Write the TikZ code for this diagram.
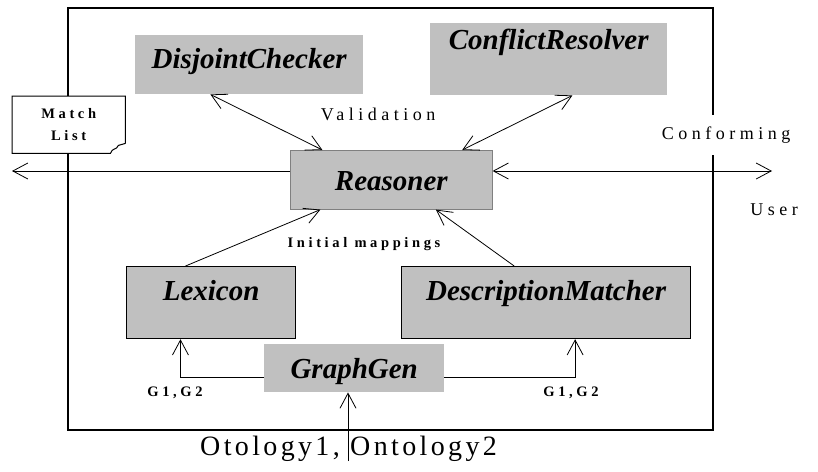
\documentclass[tikz,border=0pt]{standalone}
\usepackage{fontspec}
\setmainfont{Liberation Serif}
\newfontfamily\spacedfont[LetterSpace=25]{Liberation Serif}
\newfontfamily\widefont[LetterSpace=12]{Liberation Serif}
\usetikzlibrary{arrows.meta, calc}
\definecolor{boxgray}{RGB}{192,192,192}

\begin{document}
\begin{tikzpicture}[
    x=1pt, y=-1pt,
    comp/.style={rectangle, fill=boxgray, anchor=north west, inner sep=0pt, font=\fontsize{29}{32}\selectfont\bfseries\itshape},
    framed/.style={comp, draw, line width=1.2pt},
    lbl/.style={font=\spacedfont\fontsize{18}{20}\selectfont},
    small/.style={font=\spacedfont\fontsize{14.5}{22}\selectfont\bfseries},
    arr/.style={-{Straight Barb[length=15pt, width=16pt]}, line width=0.8pt},
    biarr/.style={{Straight Barb[length=15pt, width=16pt]}-{Straight Barb[length=15pt, width=16pt]}, line width=0.8pt},
]
    \useasboundingbox (0,0) rectangle (818,471);

    % System frame
    \draw[line width=1.3pt] (68,8) rectangle (713,430);

    % Validation components
    \node[comp, minimum width=228pt, text height=33pt, text depth=26pt] (disj) at (135,35) {DisjointChecker};
    \node[comp, minimum width=237pt, text height=26pt, text depth=46pt] (conf) at (430,23) {ConflictResolver};

    % Reasoner
    \node[comp, draw=gray, line width=0.6pt, minimum width=202pt, text height=40pt, text depth=19pt] (reas) at (290,150) {Reasoner};

    % Matchers
    \node[framed, minimum width=169pt, text height=34pt, text depth=38pt] (lex) at (126,266) {Lexicon};
    \node[framed, minimum width=289pt, text height=34pt, text depth=38pt] (desc) at (401,266) {DescriptionMatcher};
    \node[comp, minimum width=180pt, text height=34pt, text depth=14pt] (gg) at (264,344) {GraphGen};

    % Match list
    \node[small, fill=white, anchor=north west, minimum width=113pt, minimum height=57pt, align=center] (ml) at (12,96) {Match\\List};
    \draw[line width=1pt] ([yshift=10pt]ml.south east) -- (ml.north east) -- (ml.north west) -- (ml.south west)
        -- ([xshift=-15pt]ml.south east) .. controls ([xshift=-13pt,yshift=6pt]ml.south east) and ([xshift=-9pt,yshift=3pt]ml.south east) .. ([xshift=-7pt,yshift=8pt]ml.south east)
        -- ([yshift=10pt]ml.south east);

    % Labels
    \node[lbl] (val) at (378,114) {Validation};
    \node[lbl, fill=white, minimum height=40pt] (confm) at (726,135) {Conforming};
    \node[lbl] (user) at (774,210) {User};
    \node[small] (init) at (364,244) {Initial mappings};
    \node[small] (gl) at (175,393) {G1,G2};
    \node[small] (gr) at (571,393) {G1,G2};
    \node[font=\widefont\fontsize{28}{30}\selectfont, anchor=west, inner sep=0pt] (ont) at (200,449) {Otology1, Ontology2};

    % Free ends
    \coordinate (out) at (12,171);
    \coordinate (usr) at (772,171);
    \coordinate (ontin) at (348,461);

    % Arrows
    \draw[biarr] ($(disj.south west)!0.33!(disj.south east)$) -- ($(reas.north west)!0.16!(reas.north east)$);
    \draw[biarr] ($(conf.south west)!0.6!(conf.south east)$) -- ($(reas.north west)!0.85!(reas.north east)$);
    \draw[arr] (out -| reas.west) -- (out);
    \draw[biarr] (usr -| reas.east) -- (usr);
    \draw[arr] ($(lex.north west)!0.35!(lex.north east)$) -- ($(reas.south west)!0.15!(reas.south east)$);
    \draw[arr] ($(desc.north west)!0.39!(desc.north east)$) -- ($(reas.south west)!0.72!(reas.south east)$);
    \draw[arr] ([yshift=-9pt]gg.west) -| ($(lex.south west)!0.32!(lex.south east)$);
    \draw[arr] ([yshift=-9pt]gg.east) -| ($(desc.south west)!0.6!(desc.south east)$);
    \draw[arr] (ontin) -- (ontin |- gg.south);
\end{tikzpicture}
\end{document}
